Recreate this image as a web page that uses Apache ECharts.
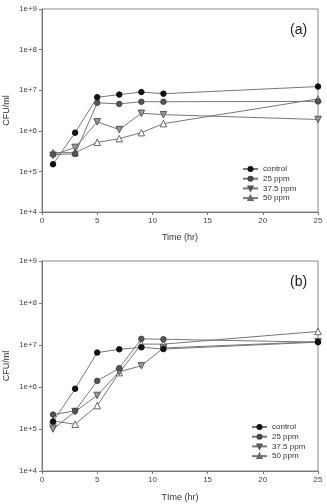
<!DOCTYPE html>
<html><head><meta charset="utf-8">
<script src="https://cdn.jsdelivr.net/npm/echarts@6/dist/echarts.min.js"></script>
<style>html,body{margin:0;padding:0;background:#fff}#c{width:327px;height:504px}</style>
</head><body><div id="c"></div>
<script>
const times = [1, 3, 5, 7, 9, 11, 25];
const seriesNames = ['control', '25 ppm', '37.5 ppm', '50 ppm'];
const xTicks = [0, 5, 10, 15, 20, 25];
// Panel (a)
const a_control = [1.5e5, 9.0e5, 6.7e6, 7.8e6, 9.0e6, 8.2e6, 1.23e7];
const a_25ppm   = [2.6e5, 2.7e5, 4.9e6, 4.6e6, 5.2e6, 5.2e6, 5.3e6];
const a_375ppm  = [2.5e5, 3.9e5, 1.66e6, 1.07e6, 2.7e6, 2.5e6, 1.9e6];
const a_50ppm   = [2.9e5, 2.9e5, 5.2e5, 6.4e5, 9.0e5, 1.5e6, 6.1e6];
// Panel (b)
const b_control = [1.5e5, 9.1e5, 6.6e6, 7.9e6, 8.8e6, 8.0e6, 1.17e7];
const b_25ppm   = [2.2e5, 2.7e5, 1.4e6, 2.8e6, 1.4e7, 1.37e7, 1.17e7];
const b_375ppm  = [1.0e5, 2.6e5, 6.3e5, 2.3e6, 3.2e6, 8.5e6, 1.2e7];
const b_50ppm   = [1.55e5, 1.3e5, 3.6e5, 2.2e6, 1.05e7, 1.05e7, 2.1e7];

const panelA = [a_control, a_25ppm, a_375ppm, a_50ppm];
const panelB = [b_control, b_25ppm, b_375ppm, b_50ppm];

const styles = [
  {symbol: 'circle', size: 5.5, fill: '#111', border: '#111', rot: 0},
  {symbol: 'circle', size: 5.5, fill: '#555', border: '#444', rot: 0},
  {symbol: 'triangle', size: 6.5, fill: '#999', border: '#555', rot: 180},
  {symbol: 'triangle', size: 6.5, fill: '#fff', border: '#666', rot: 0}
];

const font = 'Liberation Sans, Arial, sans-serif';
const chart = echarts.init(document.getElementById('c'));

function xAxis(gi, name, gap) {
  return {
    type: 'value', gridIndex: gi, min: xTicks[0], max: xTicks[xTicks.length - 1], interval: 5,
    name: name, nameLocation: 'middle', nameGap: gap,
    nameTextStyle: {fontFamily: font, fontSize: 9, color: '#333'},
    axisLine: {show: true, lineStyle: {color: '#777', width: 1}},
    axisTick: {show: true, length: 3, lineStyle: {color: '#777'}},
    axisLabel: {fontFamily: font, fontSize: 8, color: '#444', margin: 5},
    splitLine: {show: false}
  };
}
function yAxis(gi) {
  return {
    type: 'log', logBase: 10, gridIndex: gi, min: 1e4, max: 1e9,
    name: 'CFU/ml', nameLocation: 'middle', nameGap: 31, nameMoveOverlap: false,
    nameTextStyle: {fontFamily: font, fontSize: 9, color: '#333'},
    axisLine: {show: true, lineStyle: {color: '#777', width: 1}},
    axisTick: {show: true, length: 3, lineStyle: {color: '#777'}},
    minorTick: {show: false},
    axisLabel: {fontFamily: font, fontSize: 8, color: '#444', margin: 5,
      formatter: v => '1e+' + Math.round(Math.log10(v))},
    splitLine: {show: false}
  };
}
function makeSeries(data, gi) {
  return data.map((vals, i) => ({
    name: seriesNames[i], type: 'line', xAxisIndex: gi, yAxisIndex: gi,
    data: times.map((t, k) => [t, vals[k]]),
    symbol: styles[i].symbol, symbolSize: styles[i].size, symbolRotate: styles[i].rot,
    showAllSymbol: true,
    lineStyle: {color: '#777', width: 1},
    itemStyle: {color: styles[i].fill, borderColor: styles[i].border, borderWidth: 1},
    z: 10 - i,
    animation: false
  }));
}
function legend(left, top) {
  return {
    data: seriesNames, orient: 'vertical', left: left, top: top,
    itemWidth: 15, itemHeight: 5, itemGap: 1.7, selectedMode: false,
    textStyle: {fontFamily: font, fontSize: 8, color: '#333'},
    padding: 0
  };
}

chart.setOption({
  backgroundColor: '#fff',
  animation: false,
  title: [
    {text: '(a)', left: 285, top: 18, textStyle: {fontFamily: font, fontSize: 14, fontWeight: 'normal', color: '#222'}},
    {text: '(b)', left: 285, top: 270, textStyle: {fontFamily: font, fontSize: 14, fontWeight: 'normal', color: '#222'}}
  ],
  grid: [
    {left: 42, top: 9, width: 276, height: 203, outerBoundsMode: 'none', containLabel: false, show: true, borderColor: '#888', borderWidth: 1, backgroundColor: 'transparent'},
    {left: 42, top: 261, width: 276, height: 210, outerBoundsMode: 'none', containLabel: false, show: true, borderColor: '#888', borderWidth: 1, backgroundColor: 'transparent'}
  ],
  xAxis: [xAxis(0, 'Time (hr)', 21), xAxis(1, 'TIme (hr)', 22)],
  yAxis: [yAxis(0), yAxis(1)],
  legend: [legend(242, 165), legend(251, 423)],
  series: makeSeries(panelA, 0).concat(makeSeries(panelB, 1))
});
</script></body></html>
